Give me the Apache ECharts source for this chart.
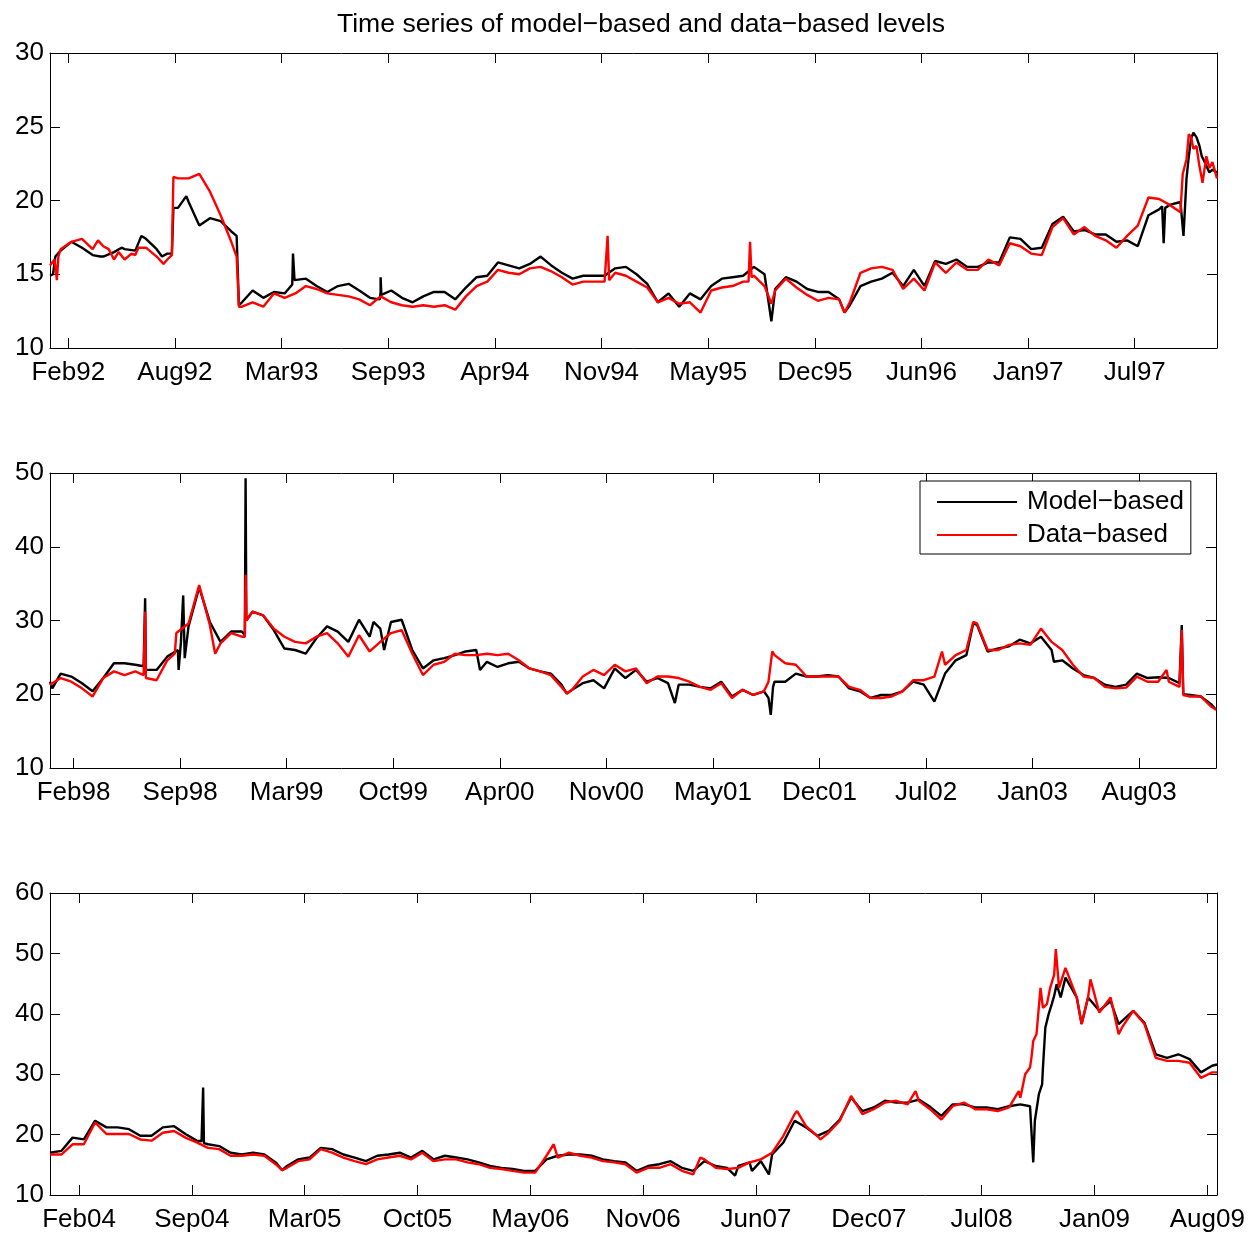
<!DOCTYPE html>
<html><head><meta charset="utf-8">
<script src="https://cdn.jsdelivr.net/npm/echarts@6/dist/echarts.min.js"></script>
<style>html,body{margin:0;padding:0;background:#fff}#c{width:1257px;height:1234px}</style>
</head><body><div id="c"></div>
<script>
// x unit = trading-day observation index; values sampled every STEP observations
const STEP = 14;
const FONT = "'Liberation Sans', Arial, Helvetica, sans-serif";

// ---------- Panel 1 (1992-1997) ----------
const p1Labels = ['Feb92','Aug92','Mar93','Sep93','Apr94','Nov94','May95','Dec95','Jun96','Jan97','Jul97'];
const p1Ticks = [24,164,304,444,584,724,864,1004,1144,1284,1424];
const p1Max = 1532;
const p1YTicks = [10,15,20,25,30];
const p1Model = [14.9,16.6,17.2,16.8,16.3,16.2,16.5,16.7,16.6,17.4,
 16.7,16.4,19.5,19.9,18.3,18.8,18.6,17.9,13.1,13.9,
 13.4,13.8,13.7,14.5,14.7,14.2,13.8,14.2,14.35,13.9,
 13.4,13.8,13.9,13.4,13.1,13.5,13.8,13.8,13.3,14.1,
 14.8,14.9,15.8,15.6,15.4,15.7,16.2,15.6,15.1,14.7,
 14.9,14.9,14.9,15.4,15.5,15.0,14.35,13.1,13.7,12.8,
 13.7,13.3,14.2,14.7,14.8,14.9,15.5,15.0,14.0,14.8,
 14.5,14.0,13.8,13.8,13.3,12.9,14.2,14.5,14.7,15.1,
 14.2,15.3,14.2,15.9,15.7,16.0,15.5,15.5,15.8,15.8,
 17.5,17.4,16.7,16.8,18.4,18.9,17.9,18.0,17.7,17.7,
 17.2,17.3,16.9,19.0,19.4,19.7,19.9,24.2,23.0,22.1];
const p1Data = [15.6,16.7,17.2,17.4,16.7,16.9,16.0,16.0,16.3,16.8,
 16.2,16.0,21.5,21.5,21.8,20.6,19.0,17.2,12.8,13.1,
 12.8,13.7,13.4,13.7,14.2,14.0,13.7,13.6,13.5,13.3,
 12.9,13.5,13.1,12.9,12.8,12.9,12.8,12.9,12.6,13.5,
 14.2,14.5,15.3,15.1,15.0,15.4,15.5,15.2,14.8,14.3,
 14.5,14.5,14.5,15.1,14.9,14.5,14.1,13.1,13.4,13.0,
 13.1,12.4,13.9,14.1,14.2,14.5,14.9,14.2,13.9,14.7,
 14.1,13.6,13.2,13.4,13.3,13.1,15.1,15.4,15.5,15.3,
 14.0,14.7,13.9,15.8,15.1,15.8,15.3,15.3,16.0,15.6,
 17.1,16.9,16.4,16.3,18.2,18.8,17.7,18.2,17.6,17.3,
 16.8,17.6,18.3,20.2,20.1,19.7,19.2,24.3,21.5,22.6];
const p1ModelExtra = [[4,15.0],[7,16.2],[66,16.2],[94,16.8],[120,17.6],[147,16.2],[160,16.4],[162,19.5],[179,20.3],[245,17.6],[248,12.9],
 [318,14.3],[319,16.4],[321,14.6],[433,13.3],[434,14.8],[435,13.6],[947,11.8],[1043,12.4],
 [1460,19.6],[1462,17.1],[1464,19.5],[1488,17.6],[1492,21.5],[1495,23.0],[1501,24.6],[1505,24.3],
 [1509,23.7],[1516,22.6],[1522,21.9],[1532,21.9]];
const p1DataExtra = [[6,16.0],[9,14.6],[11,16.2],[63,17.3],[77,16.7],[90,16.5],[107,16.4],[116,16.8],[149,15.7],[160,16.3],[162,21.6],[245,16.2],[248,12.8],
 [730,14.5],[732,17.6],[734,14.6],[917,14.5],[919,17.2],[921,14.8],[947,13.0],[1043,12.4],
 [1487,21.8],[1492,22.8],[1495,24.5],[1501,23.5],[1505,23.7],[1509,22.3],[1513,21.2],[1518,23.0],
 [1522,22.2],[1532,21.5]];

// ---------- Panel 2 (1998-2003) ----------
const p2Labels = ['Feb98','Sep98','Mar99','Oct99','Apr00','Nov00','May01','Dec01','Jul02','Jan03','Aug03'];
const p2Ticks = [31,171,311,451,591,731,871,1011,1151,1291,1431];
const p2Max = 1532;
const p2YTicks = [10,20,30,40,50];
const p2Model = [21.7,22.8,22.4,21.5,20.4,22.2,24.2,24.2,24.0,23.3,
 23.3,25.1,26.0,29.2,34.5,29.8,27.1,28.5,28.5,31.2,
 30.7,28.7,26.2,26.0,25.5,27.6,29.2,28.5,27.1,30.1,
 27.8,28.9,29.8,30.1,26.0,23.5,24.6,24.9,25.3,25.8,
 26.0,24.4,23.7,24.2,24.4,23.5,23.1,22.8,21.3,20.6,
 21.5,21.9,20.8,23.5,22.2,23.3,21.7,22.2,21.5,21.3,
 21.3,21.0,20.8,21.7,19.7,20.6,19.9,20.4,21.7,21.7,
 22.8,22.4,22.4,22.6,22.4,20.8,20.4,19.5,19.9,19.9,
 20.4,21.7,21.3,19.0,22.8,24.6,25.3,29.4,25.8,26.2,
 26.5,27.4,26.9,27.8,26.0,24.6,23.5,22.6,22.2,21.3,
 21.0,21.3,22.8,22.2,22.3,22.2,21.5,19.9,19.7,18.6];
const p2Data = [21.3,22.2,21.7,20.8,19.7,22.2,23.1,22.6,23.1,22.2,
 21.9,24.6,28.5,29.6,34.8,29.4,26.9,28.3,27.8,31.2,
 30.7,28.9,27.8,27.1,26.9,27.8,28.3,26.9,25.1,28.0,
 25.8,27.1,28.3,28.7,25.5,22.6,24.0,24.4,25.5,25.3,
 25.3,25.5,25.3,25.5,24.6,23.5,23.1,22.6,21.0,20.6,
 22.4,23.3,22.6,24.0,23.1,23.5,21.5,22.4,22.4,22.2,
 21.7,21.0,20.6,21.5,19.5,20.6,19.9,20.4,25.3,24.2,
 24.0,22.4,22.4,22.4,22.4,21.0,20.6,19.5,19.5,19.7,
 20.4,21.9,21.9,22.4,24.0,25.3,26.0,29.6,26.0,26.0,
 26.7,26.9,26.7,28.9,27.1,26.0,24.0,22.4,22.2,21.0,
 20.8,20.9,22.4,21.7,21.7,21.7,21.0,19.7,19.7,18.3];
const p2ModelExtra = [[3,20.8],[123,23.8],[125,33.0],[126,23.3],[169,23.3],[172,27.0],[175,33.4],[177,24.9],
 [256,28.0],[257,49.3],[258,30.0],[425,29.8],[439,26.0],[565,23.3],[679,20.1],[821,18.8],
 [944,19.5],[947,17.2],[950,21.0],[1213,29.6],[1319,24.4],[1485,21.5],[1487,29.4],[1489,20.0],[1532,17.9]];
const p2DataExtra = [[123,22.6],[125,31.2],[126,22.2],[164,25.5],[166,28.3],[217,25.5],[256,27.8],[257,36.2],
 [258,30.0],[679,20.1],[944,21.7],[949,25.8],[1172,25.8],[1213,29.8],[1467,23.3],[1485,21.0],[1487,28.7],
 [1489,19.9],[1532,17.9]];

// ---------- Panel 3 (2004-2009) ----------
const p3Labels = ['Feb04','Sep04','Mar05','Oct05','May06','Nov06','Jun07','Dec07','Jul08','Jan09','Aug09'];
const p3Ticks = [36,176,316,456,596,736,876,1016,1156,1296,1436];
const p3Max = 1448;
const p3YTicks = [10,20,30,40,50,60];
const p3Model = [17.0,17.3,19.5,19.2,22.3,21.2,21.2,20.9,19.8,19.8,
 21.2,21.4,20.1,19.0,18.4,18.1,17.0,16.7,17.0,16.7,
 15.4,14.8,15.9,16.2,17.8,17.6,16.7,16.2,15.6,16.5,
 16.7,17.0,16.2,17.3,15.9,16.5,16.2,15.9,15.4,14.8,
 14.5,14.3,14.0,14.0,15.9,16.5,16.7,16.7,16.5,15.9,
 15.6,15.4,14.0,14.8,15.1,15.6,14.5,14.0,15.6,14.8,
 14.5,14.8,15.4,15.6,16.7,18.7,22.3,21.2,19.8,20.6,
 22.5,26.1,23.9,24.5,25.6,25.3,25.3,25.8,24.6,23.1,
 25.0,25.0,24.5,24.5,24.2,24.7,25.0,20.0,31.0,43.0,
 46.0,42.7,42.7,40.5,42.1,38.8,40.5,38.5,33.3,32.7,
 33.3,32.5,30.3,31.4];
const p3Data = [16.7,16.7,18.4,18.4,22.0,20.1,20.1,20.1,19.2,19.0,
 20.3,20.6,19.5,18.7,17.8,17.6,16.5,16.5,16.7,16.5,
 15.1,14.5,15.6,15.9,17.6,17.0,16.2,15.6,15.1,15.9,
 16.2,16.5,15.9,17.0,15.6,15.9,15.9,15.4,15.1,14.5,
 14.3,14.0,13.7,13.7,16.5,16.2,17.0,16.5,16.2,15.6,
 15.4,15.1,13.7,14.5,14.5,15.1,14.0,13.4,15.9,14.5,
 14.3,14.5,15.4,15.9,17.0,19.8,23.4,21.4,19.8,20.3,
 22.3,26.4,23.4,24.2,25.3,25.6,25.0,25.6,24.2,22.5,
 24.7,25.3,24.2,24.2,23.9,24.5,26.1,33.0,41.0,46.5,
 47.6,42.7,42.7,40.2,42.7,37.7,40.5,38.3,32.7,32.2,
 32.2,31.9,29.4,30.3];
const p3ModelExtra = [[188,18.9],[190,27.8],[191,18.6],[288,14.1],[850,13.2],[871,14.0],[892,13.4],
 [1216,24.7],[1220,15.4],[1222,22.3],[1227,26.7],[1231,28.3],[1235,37.7],[1239,39.9],[1243,41.6],
 [1249,44.9],[1254,42.7],[1280,38.3],[1326,38.3],[1448,31.6]];
const p3DataExtra = [[288,14.1],[625,18.4],[807,16.2],[927,23.9],[956,19.2],[1074,27.2],[1202,27.2],
 [1210,30.0],[1216,31.1],[1220,35.5],[1224,36.6],[1229,44.3],[1233,41.0],[1237,41.6],[1241,44.3],
 [1248,50.7],[1252,44.3],[1280,38.3],[1291,45.7],[1326,36.6],[1448,30.3]];

const TITLE = 'Time series of model\u2212based and data\u2212based levels';
const NAMES = ['Model\u2212based', 'Data\u2212based'];

function build(vals, extra) {
  const pts = vals.map((v, i) => [i * STEP, v]).concat(extra);
  pts.sort((a, b) => a[0] - b[0]);
  return pts;
}

const panels = [
  {labels:p1Labels, ticks:p1Ticks, max:p1Max, y:p1YTicks, model:build(p1Model,p1ModelExtra), data:build(p1Data,p1DataExtra)},
  {labels:p2Labels, ticks:p2Ticks, max:p2Max, y:p2YTicks, model:build(p2Model,p2ModelExtra), data:build(p2Data,p2DataExtra)},
  {labels:p3Labels, ticks:p3Ticks, max:p3Max, y:p3YTicks, model:build(p3Model,p3ModelExtra), data:build(p3Data,p3DataExtra)}
];

const grids = [
  {left:50, top:53, width:1167, height:295},
  {left:50, top:473, width:1166, height:295},
  {left:50, top:893, width:1167, height:302}
];

const lineAx = {show:true, onZero:false, lineStyle:{color:'#000', width:1}};
const xAxis = [], yAxis = [], series = [];
panels.forEach((p, k) => {
  const fmt = v => { let best = 0; p.ticks.forEach((t, j) => { if (Math.abs(t - v) < Math.abs(p.ticks[best] - v)) best = j; }); return p.labels[best]; };
  ['bottom','top'].forEach(pos => {
    xAxis.push({
      gridIndex:k, type:'value', position:pos, min:0, max:p.max,
      axisLine:lineAx,
      axisTick:{show:true, inside:true, length:10, customValues:p.ticks, lineStyle:{color:'#000', width:1}},
      axisLabel:{show:pos==='bottom', customValues:p.ticks, formatter:fmt, fontSize:26, color:'#000', fontFamily:FONT, margin:12, hideOverlap:false},
      splitLine:{show:false}
    });
  });
  const yint = p.y[1] - p.y[0];
  ['left','right'].forEach(pos => {
    yAxis.push({
      gridIndex:k, type:'value', position:pos, min:p.y[0], max:p.y[p.y.length-1], interval:yint,
      axisLine:lineAx,
      axisTick:{show:true, inside:true, length:10, lineStyle:{color:'#000', width:1}},
      axisLabel:{show:pos==='left', fontSize:26, color:'#000', fontFamily:FONT, margin:6},
      splitLine:{show:false}
    });
  });
  series.push({
    type:'line', name:NAMES[0], xAxisIndex:2*k, yAxisIndex:2*k, data:p.model,
    showSymbol:false, symbol:'none', lineStyle:{color:'#000', width:2.4}, itemStyle:{color:'#000'}, z:2
  });
  series.push({
    type:'line', name:NAMES[1], xAxisIndex:2*k, yAxisIndex:2*k, data:p.data,
    showSymbol:false, symbol:'none', lineStyle:{color:'#ff0000', width:2.4}, itemStyle:{color:'#ff0000'}, z:3
  });
});

const chart = echarts.init(document.getElementById('c'), null, {renderer:'canvas', width:1257, height:1234});
chart.setOption({
  animation:false,
  backgroundColor:'#fff',
  title:{text:TITLE, left:636, top:6, textAlign:'center', textStyle:{fontSize:26.6, fontWeight:'normal', color:'#000', fontFamily:FONT}},
  legend:{
    data:NAMES, orient:'vertical', left:920, top:481, icon:'rect', itemWidth:80, itemHeight:2, itemGap:7,
    padding:[8,7,6,17], borderColor:'#000', borderWidth:1, backgroundColor:'#fff', selectedMode:false,
    textStyle:{fontSize:26, color:'#000', fontFamily:FONT, padding:[0,0,0,5]}
  },
  grid:grids, xAxis:xAxis, yAxis:yAxis, series:series
});
</script>
</body></html>
